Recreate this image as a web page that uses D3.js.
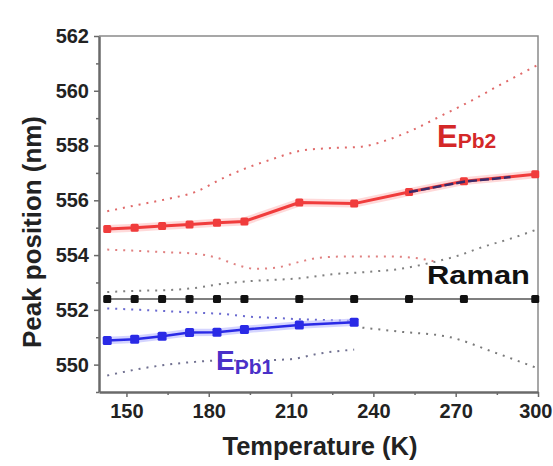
<!DOCTYPE html>
<html>
<head>
<meta charset="utf-8">
<script src="https://cdn.jsdelivr.net/npm/d3@7"></script>
<style>
  html, body { margin: 0; padding: 0; background: #fff; }
  svg { display: block; }
  text { font-family: "Liberation Sans", Arial, sans-serif; }
</style>
</head>
<body>
<svg id="chart" width="553" height="466"></svg>
<script>
// Measured temperatures (K)
const temperatures = [143, 153, 163, 173, 183, 193, 213, 233, 253, 273, 299];

// Peak positions (nm)
const ePb2 = [554.95, 555.0, 555.06, 555.12, 555.18, 555.23, 555.92, 555.88, 556.3, 556.7, 556.95];
const ePb1 = [550.88, 550.93, 551.04, 551.17, 551.18, 551.28, 551.45, 551.55];
const raman = [552.4, 552.4, 552.4, 552.4, 552.4, 552.4, 552.4, 552.4, 552.4, 552.4, 552.4];

// Confidence bounds: [temperature, position]
const ePb2Upper = [[143,555.6],[155,555.85],[165,556.05],[175,556.3],[185,556.8],[193,557.15],[203,557.5],[213,557.8],[223,557.9],[235,557.95],[245,558.2],[255,558.6],[265,559.1],[275,559.6],[285,560.15],[300,560.95]];
const ePb2Lower = [[143,554.2],[155,554.15],[165,554.1],[175,554.05],[183,553.9],[190,553.65],[197,553.5],[205,553.55],[213,553.75],[220,553.9],[230,553.95],[245,553.95],[255,553.9],[263,553.75]];
const ramanUpper = [[143,552.65],[155,552.7],[165,552.72],[175,552.8],[185,552.95],[195,553.05],[205,553.1],[213,553.15],[225,553.3],[240,553.4],[250,553.5],[260,553.7],[270,553.95],[280,554.3],[290,554.6],[300,554.95]];
const ePb1Upper = [[143,552.05],[155,552.0],[165,551.95],[175,551.9],[185,551.85],[195,551.75],[205,551.7],[215,551.65],[225,551.62],[233,551.6]];
const ePb1Trend = [[236,551.35],[250,551.2],[268,551.0],[284,550.45],[299,549.9]];
const ePb1Lower = [[143,549.6],[155,549.85],[165,550.0],[175,550.1],[185,550.15],[195,550.15],[210,550.2],[220,550.4],[233,550.55]];
const ePb2Fit = [[253,556.3],[273,556.68],[290,556.85]];

// Axis ticks
const xTicks = [150, 180, 210, 240, 270, 300];
const xMinor = [165, 195, 225, 255, 285];
const yTicks = [550, 552, 554, 556, 558, 560, 562];
const yMinor = [549, 551, 553, 555, 557, 559, 561];

const svg = d3.select("#chart");
const x = d3.scaleLinear().domain([140, 300]).range([99, 538]);
const y = d3.scaleLinear().domain([549, 562]).range([392, 36]);

// Frame (top and right)
svg.append("path")
  .attr("d", `M${x(140)},${y(562)}H${x(300)}V${y(549)}`)
  .attr("fill", "none").attr("stroke", "#8a8a8a").attr("stroke-width", 1.5);

const line = d3.line().x(d => x(d[0])).y(d => y(d[1]));
const curve = d3.line().x(d => x(d[0])).y(d => y(d[1])).curve(d3.curveMonotoneX);

function dotted(data, color) {
  svg.append("path").datum(data)
    .attr("d", curve)
    .attr("fill", "none")
    .attr("stroke", color)
    .attr("stroke-width", 2)
    .attr("stroke-dasharray", "2,6");
}

dotted(ePb2Upper, "#e06a6a");
dotted(ePb2Lower, "#e08080");
dotted(ramanUpper, "#808080");
dotted(ePb1Upper, "#6a6ad0");
dotted(ePb1Trend, "#7a7a7a");
dotted(ePb1Lower, "#707090");

function series(values, color, markerColor, halo, width, size) {
  const pts = values.map((v, i) => [temperatures[i], v]);
  if (halo) {
    svg.append("path").datum(pts).attr("d", line)
      .attr("fill", "none").attr("stroke", halo).attr("stroke-width", width + 5)
      .attr("stroke-linejoin", "round").attr("opacity", 0.6);
  }
  svg.append("path").datum(pts).attr("d", line)
    .attr("fill", "none").attr("stroke", color).attr("stroke-width", width)
    .attr("stroke-linejoin", "round");
  svg.selectAll(null).data(pts).enter().append("rect")
    .attr("x", d => x(d[0]) - size / 2)
    .attr("y", d => y(d[1]) - size / 2)
    .attr("width", size).attr("height", size)
    .attr("rx", 1.5)
    .attr("fill", markerColor);
}

series(raman, "#555555", "#111111", null, 1.5, 8);
series(ePb1, "#2a2ae6", "#2a2ae6", "#b8b8ff", 2.5, 9);
series(ePb2, "#f03c3c", "#f03c3c", "#ffc0c0", 3, 8);

// Fitted segment over EPb2
svg.append("path").datum(ePb2Fit).attr("d", line)
  .attr("fill", "none").attr("stroke", "#3a2a6a").attr("stroke-width", 2.5)
  .attr("stroke-dasharray", "9,3");

// Axes
const xAxis = svg.append("g").attr("transform", `translate(0,${y(549)})`)
  .call(d3.axisBottom(x).tickValues(xTicks).tickSize(5).tickSizeOuter(0).tickPadding(7).tickFormat(d3.format("d")));
svg.append("g").attr("transform", `translate(${x(140)},0)`)
  .call(d3.axisLeft(y).tickValues(yTicks).tickSize(5).tickSizeOuter(0).tickPadding(5).tickFormat(d3.format("d")));

svg.append("g").attr("transform", `translate(0,${y(549)})`)
  .call(d3.axisBottom(x).tickValues(xMinor).tickSize(3).tickFormat(""))
  .call(g => g.select(".domain").remove());
svg.append("g").attr("transform", `translate(${x(140)},0)`)
  .call(d3.axisLeft(y).tickValues(yMinor).tickSize(3).tickFormat(""))
  .call(g => g.select(".domain").remove());

svg.selectAll(".domain").attr("stroke", "#6a6a6a").attr("stroke-width", 2.5);
svg.selectAll(".tick line").attr("stroke", "#6a6a6a").attr("stroke-width", 1.5);
svg.selectAll(".tick text")
  .attr("font-family", "'Liberation Sans', Arial, sans-serif")
  .attr("font-weight", "bold").attr("font-size", 20).attr("fill", "#222");
// keep the last x label inside the page edge
xAxis.selectAll(".tick text").filter(d => d === 300).attr("text-anchor", "end").attr("dx", 14);

// Axis titles
svg.append("text")
  .attr("x", 320).attr("y", 455)
  .attr("text-anchor", "middle")
  .attr("font-weight", "bold").attr("font-size", 25).attr("fill", "#222")
  .attr("textLength", 195).attr("lengthAdjust", "spacingAndGlyphs")
  .text("Temperature (K)");
svg.append("text")
  .attr("transform", `translate(41,232) rotate(-90)`)
  .attr("text-anchor", "middle")
  .attr("font-weight", "bold").attr("font-size", 25).attr("fill", "#222")
  .attr("textLength", 232).attr("lengthAdjust", "spacingAndGlyphs")
  .text("Peak position (nm)");

// Series labels
function label(px, py, main, mainSize, sub, subSize, dy, color) {
  const t = svg.append("text").attr("x", px).attr("y", py)
    .attr("font-weight", "bold").attr("fill", color);
  t.append("tspan").attr("font-size", mainSize).text(main);
  t.append("tspan").attr("font-size", subSize).attr("dy", dy).text(sub);
}
label(437, 147, "E", 31, "Pb2", 21, 1, "#d42828");
label(216, 370, "E", 28, "Pb1", 21, 4, "#4a30c8");
svg.append("text").attr("x", 427).attr("y", 284)
  .attr("font-weight", "bold").attr("font-size", 26).attr("fill", "#111")
  .attr("textLength", 103).attr("lengthAdjust", "spacingAndGlyphs")
  .text("Raman");
</script>
</body>
</html>
